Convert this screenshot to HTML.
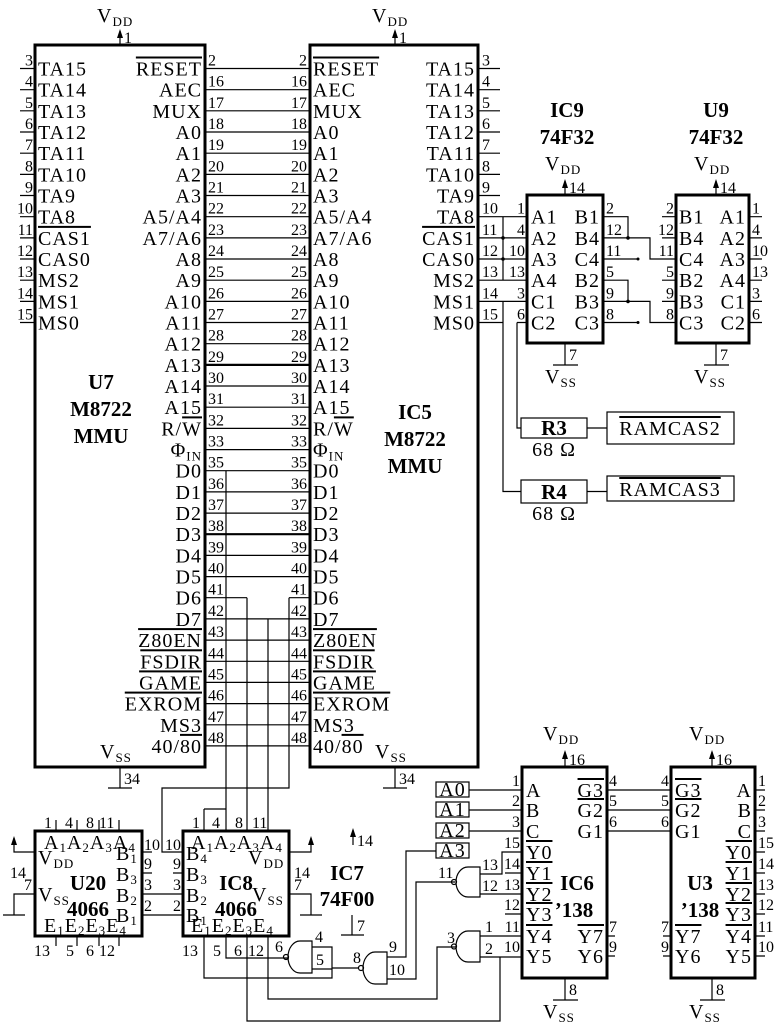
<!DOCTYPE html>
<html><head><meta charset="utf-8"><style>
html,body{margin:0;padding:0;background:#fff;}
svg{display:block;}
text{font-family:"Liberation Serif",serif;fill:#000;}
.l{font-size:20px;letter-spacing:1px;}
.n{font-size:16px;}
.b{font-size:21px;font-weight:bold;}
.s{font-size:13px;}
.o{text-decoration:overline;}
</style></head><body>
<svg width="781" height="1024" viewBox="0 0 781 1024" xmlns="http://www.w3.org/2000/svg">
<g fill="none" stroke="#000" stroke-width="1.2">
<rect x="35" y="45" width="170" height="722" stroke-width="3"/>
<rect x="310" y="45" width="168" height="722" stroke-width="3"/>
<rect x="527" y="195" width="76" height="148" stroke-width="3"/>
<rect x="676" y="195" width="73" height="148" stroke-width="3"/>
<rect x="35" y="831" width="107" height="105" stroke-width="3"/>
<rect x="183" y="831" width="106" height="105" stroke-width="3"/>
<rect x="522" y="767" width="85" height="211" stroke-width="3"/>
<rect x="671" y="767" width="84" height="211" stroke-width="3"/>
<rect x="521" y="418" width="66" height="20"/>
<rect x="607" y="412" width="127" height="32"/>
<rect x="521" y="480" width="66" height="23"/>
<rect x="607" y="476" width="127" height="25"/>
<rect x="436" y="782" width="33" height="15"/>
<rect x="436" y="802" width="33" height="15"/>
<rect x="436" y="823" width="33" height="15"/>
<rect x="436" y="843" width="33" height="15"/>
<path d="M20,68.5H35M20,89.7H35M20,110.8H35M20,132H35M20,153.2H35M20,174.4H35M20,195.5H35M20,216.7H35M20,237.9H35M20,259H35M20,280.2H35M20,301.4H35M20,322.5H35"/>
<path d="M205,68.5H310M205,89.7H310M205,110.8H310M205,132H310M205,153.2H310M205,174.4H310M205,195.5H310M205,216.7H310M205,237.9H310M205,259H310M205,280.2H310M205,301.4H310M205,322.5H310M205,343.7H310M205,364.9H310M205,386H310M205,407.2H310M205,428.4H310M205,449.6H310M205,470.7H310M205,491.9H310M205,513.1H310M205,534.2H310M205,555.4H310M205,576.6H310M205,597.7H247M289,597.7H310M205,618.9H310M205,640.1H310M205,661.3H310M205,682.4H310M205,703.6H310M205,724.8H310M205,745.9H310"/>
<path d="M205,364.9H310" stroke-width="2.2"/>
<path d="M205,534.2H310" stroke-width="2.2"/>
<path d="M478,68.5H500M478,89.7H500M478,110.8H500M478,132H500M478,153.2H500M478,174.4H500M478,195.5H500M478,216.7H527M478,237.9H527M478,259H527M478,280.2H527M478,301.4H527M478,322.5H503"/>
<path d="M503,216.7V280.2M503,301.4V491.5H521M517,322.5H527M517,322.5V428H521M587,428H607M587,491.5H607"/>
<path d="M603,216.7H628V237.9M603,237.9H650V259H676M603,259H638M603,280.2H628V301.4M603,301.4H650V322.5H676M603,322.5H638"/>
<path d="M662,216.7H676M662,237.9H676M662,280.2H676M662,301.4H676"/>
<path d="M749,216.7H762M749,237.9H762M749,259H762M749,280.2H762M749,301.4H762M749,322.5H762"/>
<path d="M120,45V31M395,45V31M565,195V181M716,195V181M565,767V752M712,767V752M353,845V830"/>
<path d="M120,767V788M108,788H132M395,767V788M383,788H407M565,343V365M553,365H578M716,343V365M704,365H729M565,978V1000M553,1000H578M712,978V1000M700,1000H725M352,915V935M341,935H364"/>
<path d="M56,820V831M77,820V831M99,820V831M119,820V831M56,936V946M77,936V946M99,936V946M119,936V946"/>
<path d="M35,852H14V838M35,894H14V915M3,915H25M142,852H152M142,873H152"/>
<path d="M142,894H183M142,915H183"/>
<path d="M289,852H311V838M289,894H311V915M300,915H322"/>
<path d="M226,470.7V831M204,809H226M204,809V831M268,618.9V831M289,597.7V788H162V852H183M247,597.7V831M173,873H183"/>
<path d="M204,936V978H332V947H312M332,969H312M226,936V958H289M247,936V1021H500V957M268,936V999H437V947H456"/>
<path d="M312,941H300A12,16 0 0 0 300,973H312Z"/>
<circle cx="286" cy="957" r="2.5"/>
<path d="M387,952H375A12,16 0 0 0 375,984H387Z"/>
<circle cx="361" cy="968" r="2.5"/>
<path d="M332,968H358M387,957H406V851H436M387,979H416V882H455"/>
<path d="M480,867H468A12,15 0 0 0 468,897H480Z"/>
<circle cx="454" cy="882" r="2.5"/>
<path d="M480,931H468A12,15.5 0 0 0 468,962H480Z"/>
<circle cx="454" cy="946.5" r="2.5"/>
<path d="M480,874H502V852H522M480,894H522M505,873H522M505,914H522M480,936H522M480,957H522"/>
<path d="M469,790H522M469,810H522M469,831H522M607,790H671M607,810H671M607,831H671M607,936H615M607,956H615M663,936H671M663,956H671"/>
<path d="M755,790H765M755,810H765M755,831H765M755,852H765M755,873H765M755,894H765M755,914H765M755,936H765M755,956H765"/>
</g>
<g fill="#000">
<path d="M120,29l-3,9h6zM395,29l-3,9h6zM565,179l-3,9h6zM716,179l-3,9h6zM565,750l-3,9h6zM712,750l-3,9h6zM353,828l-3,9h6zM14,836l-3,9h6zM311,836l-3,9h6z"/>
<circle cx="503" cy="237.9" r="1.8"/><circle cx="503" cy="259" r="1.8"/>
<circle cx="628" cy="237.9" r="1.8"/><circle cx="628" cy="301.4" r="1.8"/>
<circle cx="638" cy="259" r="1.5"/><circle cx="638" cy="322.5" r="1.5"/>
</g>

<text class="l" x="97" y="22">V<tspan class="s" dy="4">DD</tspan></text>
<text class="n" x="124" y="43">1</text>
<text class="l" x="372" y="22">V<tspan class="s" dy="4">DD</tspan></text>
<text class="n" x="399" y="43">1</text>

<g class="l">
<text x="38" y="75.5">TA15</text><text x="38" y="96.7">TA14</text><text x="38" y="117.8">TA13</text><text x="38" y="139">TA12</text><text x="38" y="160.2">TA11</text><text x="38" y="181.4">TA10</text><text x="38" y="202.5">TA9</text><text x="38" y="223.7">TA8</text><text x="38" y="244.9"><tspan class="o">CAS1</tspan></text><text x="38" y="266">CAS0</text><text x="38" y="287.2">MS2</text><text x="38" y="308.4">MS1</text><text x="38" y="329.5">MS0</text>
</g>
<g class="n" text-anchor="end">
<text x="33" y="65.5">3</text><text x="33" y="86.7">4</text><text x="33" y="107.8">5</text><text x="33" y="129">6</text><text x="33" y="150.2">7</text><text x="33" y="171.4">8</text><text x="33" y="192.5">9</text><text x="33" y="213.7">10</text><text x="33" y="234.9">11</text><text x="33" y="256">12</text><text x="33" y="277.2">13</text><text x="33" y="298.4">14</text><text x="33" y="319.5">15</text>
</g>
<g class="l" text-anchor="end">
<text x="202" y="75.5"><tspan class="o">RESET</tspan></text><text x="202" y="96.7">AEC</text><text x="202" y="117.8">MUX</text><text x="202" y="139">A0</text><text x="202" y="160.2">A1</text><text x="202" y="181.4">A2</text><text x="202" y="202.5">A3</text><text x="202" y="223.7">A5/A4</text><text x="202" y="244.9">A7/A6</text><text x="202" y="266">A8</text><text x="202" y="287.2">A9</text><text x="202" y="308.4">A10</text><text x="202" y="329.5">A11</text><text x="202" y="350.7">A12</text><text x="202" y="371.9">A13</text><text x="202" y="393">A14</text><text x="202" y="414.2">A15</text><text x="202" y="435.4">R/<tspan class="o">W</tspan></text><text x="202" y="456.6">Φ<tspan class="s" dy="4">IN</tspan></text><text x="202" y="477.7">D0</text><text x="202" y="498.9">D1</text><text x="202" y="520.1">D2</text><text x="202" y="541.2">D3</text><text x="202" y="562.4">D4</text><text x="202" y="583.6">D5</text><text x="202" y="604.7">D6</text><text x="202" y="625.9">D7</text><text x="202" y="647.1"><tspan class="o">Z80EN</tspan></text><text x="202" y="668.3"><tspan class="o">FSDIR</tspan></text><text x="202" y="689.4"><tspan class="o">GAME</tspan></text><text x="202" y="710.6"><tspan class="o">EXROM</tspan></text><text x="202" y="731.8">MS3</text><text x="202" y="752.9">40/<tspan class="o">80</tspan></text>
</g>
<g class="n">
<text x="208" y="65.5">2</text><text x="208" y="86.7">16</text><text x="208" y="107.8">17</text><text x="208" y="129">18</text><text x="208" y="150.2">19</text><text x="208" y="171.4">20</text><text x="208" y="192.5">21</text><text x="208" y="213.7">22</text><text x="208" y="234.9">23</text><text x="208" y="256">24</text><text x="208" y="277.2">25</text><text x="208" y="298.4">26</text><text x="208" y="319.5">27</text><text x="208" y="340.7">28</text><text x="208" y="361.9">29</text><text x="208" y="383">30</text><text x="208" y="404.2">31</text><text x="208" y="425.4">32</text><text x="208" y="446.6">33</text><text x="208" y="467.7">35</text><text x="208" y="488.9">36</text><text x="208" y="510.1">37</text><text x="208" y="531.2">38</text><text x="208" y="552.4">39</text><text x="208" y="573.6">40</text><text x="208" y="594.7">41</text><text x="208" y="615.9">42</text><text x="208" y="637.1">43</text><text x="208" y="658.3">44</text><text x="208" y="679.4">45</text><text x="208" y="700.6">46</text><text x="208" y="721.8">47</text><text x="208" y="742.9">48</text>
</g>
<g class="n" text-anchor="end">
<text x="307" y="65.5">2</text><text x="307" y="86.7">16</text><text x="307" y="107.8">17</text><text x="307" y="129">18</text><text x="307" y="150.2">19</text><text x="307" y="171.4">20</text><text x="307" y="192.5">21</text><text x="307" y="213.7">22</text><text x="307" y="234.9">23</text><text x="307" y="256">24</text><text x="307" y="277.2">25</text><text x="307" y="298.4">26</text><text x="307" y="319.5">27</text><text x="307" y="340.7">28</text><text x="307" y="361.9">29</text><text x="307" y="383">30</text><text x="307" y="404.2">31</text><text x="307" y="425.4">32</text><text x="307" y="446.6">33</text><text x="307" y="467.7">35</text><text x="307" y="488.9">36</text><text x="307" y="510.1">37</text><text x="307" y="531.2">38</text><text x="307" y="552.4">39</text><text x="307" y="573.6">40</text><text x="307" y="594.7">41</text><text x="307" y="615.9">42</text><text x="307" y="637.1">43</text><text x="307" y="658.3">44</text><text x="307" y="679.4">45</text><text x="307" y="700.6">46</text><text x="307" y="721.8">47</text><text x="307" y="742.9">48</text>
</g>
<g class="l">
<text x="313" y="75.5"><tspan class="o">RESET</tspan></text><text x="313" y="96.7">AEC</text><text x="313" y="117.8">MUX</text><text x="313" y="139">A0</text><text x="313" y="160.2">A1</text><text x="313" y="181.4">A2</text><text x="313" y="202.5">A3</text><text x="313" y="223.7">A5/A4</text><text x="313" y="244.9">A7/A6</text><text x="313" y="266">A8</text><text x="313" y="287.2">A9</text><text x="313" y="308.4">A10</text><text x="313" y="329.5">A11</text><text x="313" y="350.7">A12</text><text x="313" y="371.9">A13</text><text x="313" y="393">A14</text><text x="313" y="414.2">A15</text><text x="313" y="435.4">R/<tspan class="o">W</tspan></text><text x="313" y="456.6">Φ<tspan class="s" dy="4">IN</tspan></text><text x="313" y="477.7">D0</text><text x="313" y="498.9">D1</text><text x="313" y="520.1">D2</text><text x="313" y="541.2">D3</text><text x="313" y="562.4">D4</text><text x="313" y="583.6">D5</text><text x="313" y="604.7">D6</text><text x="313" y="625.9">D7</text><text x="313" y="647.1"><tspan class="o">Z80EN</tspan></text><text x="313" y="668.3"><tspan class="o">FSDIR</tspan></text><text x="313" y="689.4"><tspan class="o">GAME</tspan></text><text x="313" y="710.6"><tspan class="o">EXROM</tspan></text><text x="313" y="731.8">MS3</text><text x="313" y="752.9">40/<tspan class="o">80</tspan></text>
</g>
<g class="l" text-anchor="end">
<text x="475" y="75.5">TA15</text><text x="475" y="96.7">TA14</text><text x="475" y="117.8">TA13</text><text x="475" y="139">TA12</text><text x="475" y="160.2">TA11</text><text x="475" y="181.4">TA10</text><text x="475" y="202.5">TA9</text><text x="475" y="223.7">TA8</text><text x="475" y="244.9"><tspan class="o">CAS1</tspan></text><text x="475" y="266">CAS0</text><text x="475" y="287.2">MS2</text><text x="475" y="308.4">MS1</text><text x="475" y="329.5">MS0</text>
</g>
<g class="n">
<text x="482" y="65.5">3</text><text x="482" y="86.7">4</text><text x="482" y="107.8">5</text><text x="482" y="129">6</text><text x="482" y="150.2">7</text><text x="482" y="171.4">8</text><text x="482" y="192.5">9</text><text x="482" y="213.7">10</text><text x="482" y="234.9">11</text><text x="482" y="256">12</text><text x="482" y="277.2">13</text><text x="482" y="298.4">14</text><text x="482" y="319.5">15</text>
</g>
<g class="b" text-anchor="middle">
<text x="101" y="389">U7</text><text x="101" y="416">M8722</text><text x="101" y="443">MMU</text>
<text x="415" y="419">IC5</text><text x="415" y="446">M8722</text><text x="415" y="473">MMU</text>
<text x="567" y="117">IC9</text><text x="567" y="144">74F32</text>
<text x="716" y="117">U9</text><text x="716" y="144">74F32</text>
</g>
<text class="l" x="100" y="758">V<tspan class="s" dy="4">SS</tspan></text><text class="n" x="124" y="784">34</text>
<text class="l" x="375" y="758">V<tspan class="s" dy="4">SS</tspan></text><text class="n" x="399" y="784">34</text>
<text class="l" x="545" y="170">V<tspan class="s" dy="4">DD</tspan></text><text class="n" x="569" y="193">14</text>
<text class="l" x="694" y="170">V<tspan class="s" dy="4">DD</tspan></text><text class="n" x="720" y="193">14</text>
<text class="l" x="545" y="383">V<tspan class="s" dy="4">SS</tspan></text><text class="n" x="569" y="360">7</text>
<text class="l" x="694" y="383">V<tspan class="s" dy="4">SS</tspan></text><text class="n" x="720" y="360">7</text>
<g class="l">
<text x="531" y="223.7">A1</text><text x="531" y="244.9">A2</text><text x="531" y="266">A3</text><text x="531" y="287.2">A4</text><text x="531" y="308.4">C1</text><text x="531" y="329.5">C2</text>
<text x="679" y="223.7">B1</text><text x="679" y="244.9">B4</text><text x="679" y="266">C4</text><text x="679" y="287.2">B2</text><text x="679" y="308.4">B3</text><text x="679" y="329.5">C3</text>
</g>
<g class="l" text-anchor="end">
<text x="600" y="223.7">B1</text><text x="600" y="244.9">B4</text><text x="600" y="266">C4</text><text x="600" y="287.2">B2</text><text x="600" y="308.4">B3</text><text x="600" y="329.5">C3</text>
<text x="746" y="223.7">A1</text><text x="746" y="244.9">A2</text><text x="746" y="266">A3</text><text x="746" y="287.2">A4</text><text x="746" y="308.4">C1</text><text x="746" y="329.5">C2</text>
</g>
<g class="n" text-anchor="end">
<text x="525" y="213.7">1</text><text x="525" y="234.9">4</text><text x="525" y="256">10</text><text x="525" y="277.2">13</text><text x="525" y="298.4">3</text><text x="525" y="319.5">6</text>
<text x="674" y="213.7">2</text><text x="674" y="234.9">12</text><text x="674" y="256">11</text><text x="674" y="277.2">5</text><text x="674" y="298.4">9</text><text x="674" y="319.5">8</text>
</g>
<g class="n">
<text x="606" y="213.7">2</text><text x="606" y="234.9">12</text><text x="606" y="256">11</text><text x="606" y="277.2">5</text><text x="606" y="298.4">9</text><text x="606" y="319.5">8</text>
<text x="752" y="213.7">1</text><text x="752" y="234.9">4</text><text x="752" y="256">10</text><text x="752" y="277.2">13</text><text x="752" y="298.4">3</text><text x="752" y="319.5">6</text>
</g>
<text class="b" x="554" y="435" text-anchor="middle">R3</text>
<text class="l" x="554" y="456" text-anchor="middle">68 Ω</text>
<text class="l" x="670" y="435" text-anchor="middle"><tspan class="o">RAMCAS2</tspan></text>
<text class="b" x="554" y="499" text-anchor="middle">R4</text>
<text class="l" x="554" y="520" text-anchor="middle">68 Ω</text>
<text class="l" x="670" y="496" text-anchor="middle"><tspan class="o">RAMCAS3</tspan></text>
<g class="n">
<text x="44" y="828">1</text><text x="65" y="828">4</text><text x="86" y="828">8</text><text x="99" y="828">11</text>
<text x="34" y="956">13</text><text x="66" y="956">5</text><text x="86" y="956">6</text><text x="99" y="956">12</text>
<text x="10" y="878">14</text><text x="24" y="890">7</text>
<text x="144" y="850">10</text><text x="144" y="869">9</text><text x="144" y="890">3</text><text x="144" y="911">2</text>
</g>
<text class="l" x="44" y="849" letter-spacing="0">A<tspan class="s" dy="3">1</tspan><tspan dy="-3">A</tspan><tspan class="s" dy="3">2</tspan><tspan dy="-3">A</tspan><tspan class="s" dy="3">3</tspan><tspan dy="-3">A</tspan><tspan class="s" dy="3">4</tspan></text>
<text class="l" x="38" y="864">V<tspan class="s" dy="4">DD</tspan></text>
<text class="l" x="38" y="901">V<tspan class="s" dy="4">SS</tspan></text>
<text class="l" x="44" y="932" letter-spacing="0">E<tspan class="s" dy="3">1</tspan><tspan dy="-3">E</tspan><tspan class="s" dy="3">2</tspan><tspan dy="-3">E</tspan><tspan class="s" dy="3">3</tspan><tspan dy="-3">E</tspan><tspan class="s" dy="3">4</tspan></text>
<text class="l" x="116" y="860">B<tspan class="s" dy="3">1</tspan></text><text class="l" x="116" y="881">B<tspan class="s" dy="3">3</tspan></text><text class="l" x="116" y="902">B<tspan class="s" dy="3">2</tspan></text><text class="l" x="116" y="922">B<tspan class="s" dy="3">1</tspan></text>
<text class="b" x="88" y="890" text-anchor="middle">U20</text>
<text class="b" x="88" y="916" text-anchor="middle">4066</text>
<g class="n">
<text x="192" y="828">1</text><text x="212" y="828">4</text><text x="235" y="828">8</text><text x="252" y="828">11</text>
<text x="182" y="956">13</text><text x="213" y="956">5</text><text x="234" y="956">6</text><text x="248" y="956">12</text>
<text x="275" y="952">6</text>
<text x="294" y="878">14</text><text x="294" y="890">7</text>
</g>
<g class="n" text-anchor="end">
<text x="181" y="850">10</text><text x="181" y="869">9</text><text x="181" y="890">3</text><text x="181" y="911">2</text>
</g>
<text class="l" x="191" y="849" letter-spacing="0">A<tspan class="s" dy="3">1</tspan><tspan dy="-3">A</tspan><tspan class="s" dy="3">2</tspan><tspan dy="-3">A</tspan><tspan class="s" dy="3">3</tspan><tspan dy="-3">A</tspan><tspan class="s" dy="3">4</tspan></text>
<text class="l" x="248" y="864">V<tspan class="s" dy="4">DD</tspan></text>
<text class="l" x="252" y="901">V<tspan class="s" dy="4">SS</tspan></text>
<text class="l" x="191" y="932" letter-spacing="0">E<tspan class="s" dy="3">1</tspan><tspan dy="-3">E</tspan><tspan class="s" dy="3">2</tspan><tspan dy="-3">E</tspan><tspan class="s" dy="3">3</tspan><tspan dy="-3">E</tspan><tspan class="s" dy="3">4</tspan></text>
<text class="l" x="186" y="860">B<tspan class="s" dy="3">4</tspan></text><text class="l" x="186" y="881">B<tspan class="s" dy="3">3</tspan></text><text class="l" x="186" y="902">B<tspan class="s" dy="3">2</tspan></text><text class="l" x="186" y="922">B<tspan class="s" dy="3">1</tspan></text>
<text class="b" x="236" y="890" text-anchor="middle">IC8</text>
<text class="b" x="236" y="916" text-anchor="middle">4066</text>
<text class="n" x="357" y="846">14</text>
<text class="b" x="347" y="880" text-anchor="middle">IC7</text>
<text class="b" x="347" y="906" text-anchor="middle">74F00</text>
<text class="n" x="357" y="931">7</text>
<g class="n">
<text x="315" y="942">4</text><text x="316" y="965">5</text>
<text x="353" y="963">8</text><text x="389" y="952">9</text><text x="389" y="975">10</text>
<text x="438" y="878">11</text><text x="482" y="870">13</text><text x="482" y="891">12</text>
<text x="447" y="943">3</text><text x="485" y="932">1</text><text x="485" y="954">2</text>
</g>
<g class="l" text-anchor="middle">
<text x="452.5" y="796">A0</text><text x="452.5" y="816">A1</text><text x="452.5" y="837">A2</text><text x="452.5" y="857">A3</text>
</g>
<text class="l" x="543" y="740">V<tspan class="s" dy="4">DD</tspan></text><text class="n" x="569" y="765">16</text>
<text class="l" x="543" y="1018">V<tspan class="s" dy="4">SS</tspan></text><text class="n" x="569" y="995">8</text>
<text class="l" x="689" y="740">V<tspan class="s" dy="4">DD</tspan></text><text class="n" x="716" y="765">16</text>
<text class="l" x="689" y="1018">V<tspan class="s" dy="4">SS</tspan></text><text class="n" x="716" y="995">8</text>
<g class="l">
<text x="526" y="797">A</text><text x="526" y="817">B</text><text x="526" y="838">C</text>
<text x="526" y="859"><tspan class="o">Y0</tspan></text><text x="526" y="880"><tspan class="o">Y1</tspan></text><text x="526" y="901"><tspan class="o">Y2</tspan></text><text x="526" y="921"><tspan class="o">Y3</tspan></text><text x="526" y="943"><tspan class="o">Y4</tspan></text><text x="526" y="963">Y5</text>
<text x="675" y="797"><tspan class="o">G3</tspan></text><text x="675" y="817"><tspan class="o">G2</tspan></text><text x="675" y="838">G1</text><text x="675" y="943"><tspan class="o">Y7</tspan></text><text x="675" y="963">Y6</text>
</g>
<g class="l" text-anchor="end">
<text x="604" y="797"><tspan class="o">G3</tspan></text><text x="604" y="817"><tspan class="o">G2</tspan></text><text x="604" y="838">G1</text><text x="604" y="943"><tspan class="o">Y7</tspan></text><text x="604" y="963">Y6</text>
<text x="752" y="797">A</text><text x="752" y="817">B</text><text x="752" y="838">C</text>
<text x="752" y="859"><tspan class="o">Y0</tspan></text><text x="752" y="880"><tspan class="o">Y1</tspan></text><text x="752" y="901"><tspan class="o">Y2</tspan></text><text x="752" y="921"><tspan class="o">Y3</tspan></text><text x="752" y="943"><tspan class="o">Y4</tspan></text><text x="752" y="963">Y5</text>
</g>
<g class="n" text-anchor="end">
<text x="520" y="786">1</text><text x="520" y="806">2</text><text x="520" y="827">3</text><text x="520" y="848">15</text><text x="520" y="869">14</text><text x="520" y="890">13</text><text x="520" y="910">12</text><text x="520" y="932">11</text><text x="520" y="952">10</text>
<text x="669" y="786">4</text><text x="669" y="806">5</text><text x="669" y="827">6</text><text x="669" y="932">7</text><text x="669" y="952">9</text>
</g>
<g class="n">
<text x="609" y="786">4</text><text x="609" y="806">5</text><text x="609" y="827">6</text><text x="609" y="932">7</text><text x="609" y="952">9</text>
<text x="758" y="786">1</text><text x="758" y="806">2</text><text x="758" y="827">3</text><text x="758" y="848">15</text><text x="758" y="869">14</text><text x="758" y="890">13</text><text x="758" y="910">12</text><text x="758" y="932">11</text><text x="758" y="952">10</text>
</g>
<text class="b" x="577" y="890" text-anchor="middle">IC6</text>
<text class="b" x="574" y="917" text-anchor="middle">’138</text>
<text class="b" x="700" y="890" text-anchor="middle">U3</text>
<text class="b" x="700" y="917" text-anchor="middle">’138</text>
</svg>
</body></html>
